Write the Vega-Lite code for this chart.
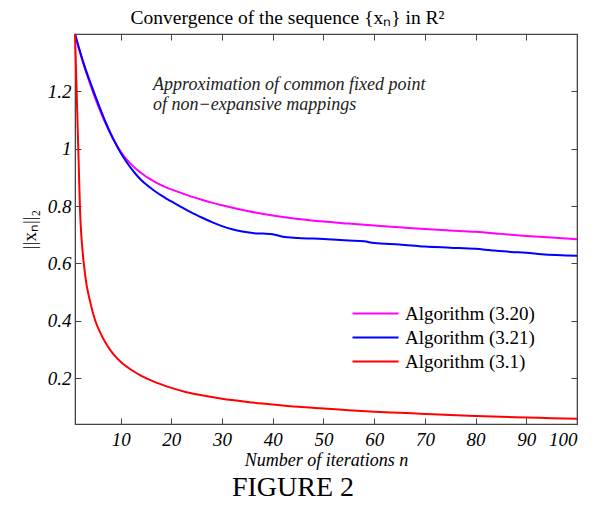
{
  "$schema": "https://vega.github.io/schema/vega-lite/v6.json",
  "width": 502,
  "height": 390,
  "autosize": "none",
  "padding": {"left": 75, "top": 34, "right": 20, "bottom": 86},
  "background": "white",
  "title": {"text": "FIGURE 2", "orient": "bottom", "font": "Liberation Serif", "fontSize": 28, "fontWeight": "normal", "color": "black", "offset": 5, "dx": -33},
  "config": {
    "view": {"stroke": "#444", "strokeWidth": 1.2},
    "axis": {"grid": false, "domainColor": "#444", "tickColor": "#444", "labelColor": "black", "titleColor": "black", "labelFont": "Liberation Serif", "titleFont": "Liberation Serif", "titleFontWeight": "normal"},
    "legend": {"orient": "none", "legendX": 288, "legendY": 267, "symbolType": "M-2,0H2", "symbolSize": 529, "symbolStrokeWidth": 2, "labelFont": "Liberation Serif", "labelFontSize": 19, "labelColor": "black", "labelOffset": 17, "rowPadding": 1, "title": null}
  },
  "datasets": {
    "curves": [
      {"n": 1, "norm": 1.400, "algorithm": "Algorithm (3.20)"},
      {"n": 2, "norm": 1.335, "algorithm": "Algorithm (3.20)"},
      {"n": 3, "norm": 1.277, "algorithm": "Algorithm (3.20)"},
      {"n": 4, "norm": 1.225, "algorithm": "Algorithm (3.20)"},
      {"n": 5, "norm": 1.175, "algorithm": "Algorithm (3.20)"},
      {"n": 6, "norm": 1.130, "algorithm": "Algorithm (3.20)"},
      {"n": 7, "norm": 1.089, "algorithm": "Algorithm (3.20)"},
      {"n": 8, "norm": 1.052, "algorithm": "Algorithm (3.20)"},
      {"n": 9, "norm": 1.019, "algorithm": "Algorithm (3.20)"},
      {"n": 10, "norm": 0.990, "algorithm": "Algorithm (3.20)"},
      {"n": 11, "norm": 0.966, "algorithm": "Algorithm (3.20)"},
      {"n": 12, "norm": 0.947, "algorithm": "Algorithm (3.20)"},
      {"n": 13, "norm": 0.930, "algorithm": "Algorithm (3.20)"},
      {"n": 14, "norm": 0.916, "algorithm": "Algorithm (3.20)"},
      {"n": 15, "norm": 0.903, "algorithm": "Algorithm (3.20)"},
      {"n": 16, "norm": 0.892, "algorithm": "Algorithm (3.20)"},
      {"n": 17, "norm": 0.882, "algorithm": "Algorithm (3.20)"},
      {"n": 18, "norm": 0.873, "algorithm": "Algorithm (3.20)"},
      {"n": 19, "norm": 0.865, "algorithm": "Algorithm (3.20)"},
      {"n": 20, "norm": 0.858, "algorithm": "Algorithm (3.20)"},
      {"n": 22, "norm": 0.845, "algorithm": "Algorithm (3.20)"},
      {"n": 24, "norm": 0.833, "algorithm": "Algorithm (3.20)"},
      {"n": 26, "norm": 0.822, "algorithm": "Algorithm (3.20)"},
      {"n": 28, "norm": 0.812, "algorithm": "Algorithm (3.20)"},
      {"n": 30, "norm": 0.803, "algorithm": "Algorithm (3.20)"},
      {"n": 35, "norm": 0.783, "algorithm": "Algorithm (3.20)"},
      {"n": 40, "norm": 0.767, "algorithm": "Algorithm (3.20)"},
      {"n": 45, "norm": 0.755, "algorithm": "Algorithm (3.20)"},
      {"n": 50, "norm": 0.746, "algorithm": "Algorithm (3.20)"},
      {"n": 55, "norm": 0.739, "algorithm": "Algorithm (3.20)"},
      {"n": 60, "norm": 0.732, "algorithm": "Algorithm (3.20)"},
      {"n": 65, "norm": 0.726, "algorithm": "Algorithm (3.20)"},
      {"n": 70, "norm": 0.720, "algorithm": "Algorithm (3.20)"},
      {"n": 75, "norm": 0.715, "algorithm": "Algorithm (3.20)"},
      {"n": 80, "norm": 0.710, "algorithm": "Algorithm (3.20)"},
      {"n": 85, "norm": 0.703, "algorithm": "Algorithm (3.20)"},
      {"n": 90, "norm": 0.696, "algorithm": "Algorithm (3.20)"},
      {"n": 95, "norm": 0.690, "algorithm": "Algorithm (3.20)"},
      {"n": 100, "norm": 0.684, "algorithm": "Algorithm (3.20)"},
      {"n": 1, "norm": 1.400, "algorithm": "Algorithm (3.21)"},
      {"n": 2, "norm": 1.338, "algorithm": "Algorithm (3.21)"},
      {"n": 3, "norm": 1.282, "algorithm": "Algorithm (3.21)"},
      {"n": 4, "norm": 1.232, "algorithm": "Algorithm (3.21)"},
      {"n": 5, "norm": 1.184, "algorithm": "Algorithm (3.21)"},
      {"n": 6, "norm": 1.138, "algorithm": "Algorithm (3.21)"},
      {"n": 7, "norm": 1.094, "algorithm": "Algorithm (3.21)"},
      {"n": 8, "norm": 1.054, "algorithm": "Algorithm (3.21)"},
      {"n": 9, "norm": 1.018, "algorithm": "Algorithm (3.21)"},
      {"n": 10, "norm": 0.986, "algorithm": "Algorithm (3.21)"},
      {"n": 11, "norm": 0.958, "algorithm": "Algorithm (3.21)"},
      {"n": 12, "norm": 0.933, "algorithm": "Algorithm (3.21)"},
      {"n": 13, "norm": 0.911, "algorithm": "Algorithm (3.21)"},
      {"n": 14, "norm": 0.892, "algorithm": "Algorithm (3.21)"},
      {"n": 15, "norm": 0.876, "algorithm": "Algorithm (3.21)"},
      {"n": 16, "norm": 0.862, "algorithm": "Algorithm (3.21)"},
      {"n": 17, "norm": 0.849, "algorithm": "Algorithm (3.21)"},
      {"n": 18, "norm": 0.837, "algorithm": "Algorithm (3.21)"},
      {"n": 19, "norm": 0.826, "algorithm": "Algorithm (3.21)"},
      {"n": 20, "norm": 0.816, "algorithm": "Algorithm (3.21)"},
      {"n": 22, "norm": 0.796, "algorithm": "Algorithm (3.21)"},
      {"n": 24, "norm": 0.777, "algorithm": "Algorithm (3.21)"},
      {"n": 26, "norm": 0.760, "algorithm": "Algorithm (3.21)"},
      {"n": 28, "norm": 0.744, "algorithm": "Algorithm (3.21)"},
      {"n": 30, "norm": 0.730, "algorithm": "Algorithm (3.21)"},
      {"n": 32, "norm": 0.719, "algorithm": "Algorithm (3.21)"},
      {"n": 34, "norm": 0.711, "algorithm": "Algorithm (3.21)"},
      {"n": 36, "norm": 0.706, "algorithm": "Algorithm (3.21)"},
      {"n": 38, "norm": 0.704, "algorithm": "Algorithm (3.21)"},
      {"n": 40, "norm": 0.702, "algorithm": "Algorithm (3.21)"},
      {"n": 42, "norm": 0.693, "algorithm": "Algorithm (3.21)"},
      {"n": 45, "norm": 0.689, "algorithm": "Algorithm (3.21)"},
      {"n": 50, "norm": 0.685, "algorithm": "Algorithm (3.21)"},
      {"n": 55, "norm": 0.680, "algorithm": "Algorithm (3.21)"},
      {"n": 58, "norm": 0.677, "algorithm": "Algorithm (3.21)"},
      {"n": 60, "norm": 0.671, "algorithm": "Algorithm (3.21)"},
      {"n": 65, "norm": 0.666, "algorithm": "Algorithm (3.21)"},
      {"n": 70, "norm": 0.659, "algorithm": "Algorithm (3.21)"},
      {"n": 75, "norm": 0.655, "algorithm": "Algorithm (3.21)"},
      {"n": 80, "norm": 0.651, "algorithm": "Algorithm (3.21)"},
      {"n": 83, "norm": 0.646, "algorithm": "Algorithm (3.21)"},
      {"n": 87, "norm": 0.640, "algorithm": "Algorithm (3.21)"},
      {"n": 90, "norm": 0.637, "algorithm": "Algorithm (3.21)"},
      {"n": 93, "norm": 0.632, "algorithm": "Algorithm (3.21)"},
      {"n": 100, "norm": 0.627, "algorithm": "Algorithm (3.21)"},
      {"n": 1, "norm": 1.40, "algorithm": "Algorithm (3.1)"},
      {"n": 2, "norm": 0.78, "algorithm": "Algorithm (3.1)"},
      {"n": 3, "norm": 0.56, "algorithm": "Algorithm (3.1)"},
      {"n": 4, "norm": 0.465, "algorithm": "Algorithm (3.1)"},
      {"n": 5, "norm": 0.40, "algorithm": "Algorithm (3.1)"},
      {"n": 6, "norm": 0.358, "algorithm": "Algorithm (3.1)"},
      {"n": 7, "norm": 0.324, "algorithm": "Algorithm (3.1)"},
      {"n": 8, "norm": 0.297, "algorithm": "Algorithm (3.1)"},
      {"n": 9, "norm": 0.275, "algorithm": "Algorithm (3.1)"},
      {"n": 10, "norm": 0.257, "algorithm": "Algorithm (3.1)"},
      {"n": 12, "norm": 0.230, "algorithm": "Algorithm (3.1)"},
      {"n": 14, "norm": 0.209, "algorithm": "Algorithm (3.1)"},
      {"n": 16, "norm": 0.192, "algorithm": "Algorithm (3.1)"},
      {"n": 18, "norm": 0.178, "algorithm": "Algorithm (3.1)"},
      {"n": 20, "norm": 0.166, "algorithm": "Algorithm (3.1)"},
      {"n": 23, "norm": 0.151, "algorithm": "Algorithm (3.1)"},
      {"n": 26, "norm": 0.140, "algorithm": "Algorithm (3.1)"},
      {"n": 30, "norm": 0.128, "algorithm": "Algorithm (3.1)"},
      {"n": 35, "norm": 0.117, "algorithm": "Algorithm (3.1)"},
      {"n": 40, "norm": 0.108, "algorithm": "Algorithm (3.1)"},
      {"n": 45, "norm": 0.100, "algorithm": "Algorithm (3.1)"},
      {"n": 50, "norm": 0.094, "algorithm": "Algorithm (3.1)"},
      {"n": 55, "norm": 0.088, "algorithm": "Algorithm (3.1)"},
      {"n": 60, "norm": 0.083, "algorithm": "Algorithm (3.1)"},
      {"n": 65, "norm": 0.079, "algorithm": "Algorithm (3.1)"},
      {"n": 70, "norm": 0.075, "algorithm": "Algorithm (3.1)"},
      {"n": 75, "norm": 0.071, "algorithm": "Algorithm (3.1)"},
      {"n": 80, "norm": 0.068, "algorithm": "Algorithm (3.1)"},
      {"n": 85, "norm": 0.065, "algorithm": "Algorithm (3.1)"},
      {"n": 90, "norm": 0.063, "algorithm": "Algorithm (3.1)"},
      {"n": 95, "norm": 0.060, "algorithm": "Algorithm (3.1)"},
      {"n": 100, "norm": 0.058, "algorithm": "Algorithm (3.1)"}
    ],
    "note": [
      {"n": 16.4, "norm": 1.205, "text": ["Approximation of common fixed  point", "of non\u2212expansive mappings"]}
    ]
  },
  "layer": [
    {
      "data": {"name": "curves"},
      "mark": {"type": "line", "strokeWidth": 2, "interpolate": "monotone"},
      "encoding": {
        "x": {"field": "n", "type": "quantitative", "scale": {"domain": [1, 100], "nice": false, "zero": false},
              "axis": {"orient": "bottom", "values": [10, 20, 30, 40, 50, 60, 70, 80, 90, 100], "tickSize": -6, "labelPadding": 12, "labelFontSize": 19, "labelFontStyle": "italic", "title": "Number of iterations n", "titleFontSize": 18, "titleFontStyle": "italic", "titlePadding": 2}},
        "y": {"field": "norm", "type": "quantitative", "scale": {"domain": [0.04, 1.4], "nice": false, "zero": false},
              "axis": {"orient": "left", "values": [0.2, 0.4, 0.6, 0.8, 1, 1.2], "format": "~g", "tickSize": -6, "labelPadding": 10, "labelFontSize": 19, "labelFontStyle": "italic", "title": "||x\u2099||\u2082", "titleFontSize": 19, "titlePadding": 8}},
        "color": {"field": "algorithm", "type": "nominal", "sort": null,
                  "scale": {"domain": ["Algorithm (3.20)", "Algorithm (3.21)", "Algorithm (3.1)"], "range": ["#ff00ff", "#0000ff", "#ff0000"]}}
      }
    },
    {
      "data": {"name": "curves"},
      "mark": {"type": "line", "opacity": 0},
      "encoding": {
        "x": {"field": "n", "type": "quantitative", "scale": {"domain": [1, 100], "nice": false, "zero": false},
              "axis": {"orient": "top", "values": [10, 20, 30, 40, 50, 60, 70, 80, 90, 100], "tickSize": -6, "labels": false, "title": "Convergence of the sequence {x\u2099} in R\u00b2", "titleFontSize": 19.5, "titlePadding": 6, "titleX": 212}},
        "y": {"field": "norm", "type": "quantitative", "scale": {"domain": [0.04, 1.4], "nice": false, "zero": false},
              "axis": {"orient": "right", "values": [0.2, 0.4, 0.6, 0.8, 1, 1.2], "tickSize": -6, "labels": false, "title": null}},
        "detail": {"field": "algorithm", "type": "nominal"}
      }
    },
    {
      "data": {"name": "note"},
      "mark": {"type": "text", "align": "left", "baseline": "alphabetic", "font": "Liberation Serif", "fontStyle": "italic", "fontSize": 18, "lineHeight": 20, "color": "#222"},
      "encoding": {
        "x": {"field": "n", "type": "quantitative", "axis": null},
        "y": {"field": "norm", "type": "quantitative", "axis": null},
        "text": {"field": "text"}
      }
    }
  ],
  "resolve": {"axis": {"x": "independent", "y": "independent"}}
}
